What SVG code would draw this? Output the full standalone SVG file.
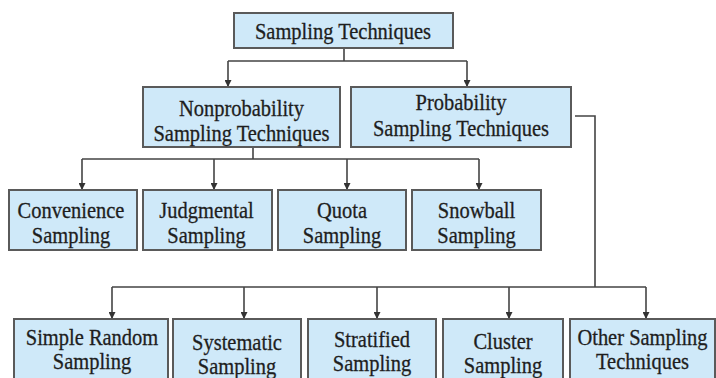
<svg xmlns="http://www.w3.org/2000/svg" width="716" height="378" viewBox="0 0 716 378">
  <style>
    .box { fill: #cfe9f9; stroke: #5a5a5a; stroke-width: 2; }
    .lbl { font-family: "Liberation Serif", "Times New Roman", serif; font-size: 23px; fill: #1e1e1e; stroke: #1e1e1e; stroke-width: 0.3; text-anchor: middle; }
    .wire { fill: none; stroke: #444; stroke-width: 1.6; }
  </style>
  <defs>
    <marker id="arrow" viewBox="0 0 8 8" refX="8" refY="4" markerWidth="7" markerHeight="7" markerUnits="userSpaceOnUse" orient="auto">
      <path d="M0,0 L8,4 L0,8 Z" fill="#333"/>
    </marker>
  </defs>
  <rect width="716" height="378" fill="#fff"/>

  <!-- connectors -->
  <g id="connectors" class="wire">
    <path d="M344,48 V61 M228,61 H467"/>
    <path d="M228,61 V87" marker-end="url(#arrow)"/>
    <path d="M467,61 V87" marker-end="url(#arrow)"/>
    <path d="M253,147 V159 M82,159 H479"/>
    <path d="M82,159 V190" marker-end="url(#arrow)"/>
    <path d="M214,159 V190" marker-end="url(#arrow)"/>
    <path d="M347,159 V190" marker-end="url(#arrow)"/>
    <path d="M479,159 V190" marker-end="url(#arrow)"/>
    <path d="M575,116 H595 V287 M112,287 H646"/>
    <path d="M112,287 V319" marker-end="url(#arrow)"/>
    <path d="M244,287 V319" marker-end="url(#arrow)"/>
    <path d="M377,287 V319" marker-end="url(#arrow)"/>
    <path d="M509,287 V319" marker-end="url(#arrow)"/>
    <path d="M646,287 V319" marker-end="url(#arrow)"/>
  </g>

  <g id="sampling-techniques">
    <rect class="box" x="234" y="13" width="219" height="35"/>
    <text class="lbl" transform="translate(343 0) scale(0.89 1)"><tspan x="0" y="39">Sampling Techniques</tspan></text>
  </g>

  <g id="nonprobability">
    <rect class="box" x="143" y="87" width="197" height="60"/>
    <text class="lbl" transform="translate(241.5 0) scale(0.89 1)"><tspan x="0" y="116">Nonprobability</tspan><tspan x="0" y="141">Sampling Techniques</tspan></text>
  </g>

  <g id="probability">
    <rect class="box" x="351" y="87" width="220" height="60"/>
    <text class="lbl" transform="translate(461 0) scale(0.89 1)"><tspan x="0" y="110">Probability</tspan><tspan x="0" y="136">Sampling Techniques</tspan></text>
  </g>

  <g id="convenience">
    <rect class="box" x="9" y="190" width="128" height="60"/>
    <text class="lbl" transform="translate(71 0) scale(0.89 1)"><tspan x="0" y="218">Convenience</tspan><tspan x="0" y="243">Sampling</tspan></text>
  </g>

  <g id="judgmental">
    <rect class="box" x="143" y="190" width="129" height="60"/>
    <text class="lbl" transform="translate(206.5 0) scale(0.89 1)"><tspan x="0" y="218">Judgmental</tspan><tspan x="0" y="243">Sampling</tspan></text>
  </g>

  <g id="quota">
    <rect class="box" x="278" y="190" width="128" height="60"/>
    <text class="lbl" transform="translate(342 0) scale(0.89 1)"><tspan x="0" y="218">Quota</tspan><tspan x="0" y="243">Sampling</tspan></text>
  </g>

  <g id="snowball">
    <rect class="box" x="412" y="190" width="129" height="60"/>
    <text class="lbl" transform="translate(476.5 0) scale(0.89 1)"><tspan x="0" y="218">Snowball</tspan><tspan x="0" y="243">Sampling</tspan></text>
  </g>

  <g id="simple-random">
    <rect class="box" x="14" y="319" width="154" height="72"/>
    <text class="lbl" transform="translate(92 0) scale(0.89 1)"><tspan x="0" y="345">Simple Random</tspan><tspan x="0" y="369">Sampling</tspan></text>
  </g>

  <g id="systematic">
    <rect class="box" x="173" y="319" width="128" height="72"/>
    <text class="lbl" transform="translate(237 0) scale(0.89 1)"><tspan x="0" y="350">Systematic</tspan><tspan x="0" y="374">Sampling</tspan></text>
  </g>

  <g id="stratified">
    <rect class="box" x="308" y="319" width="128" height="72"/>
    <text class="lbl" transform="translate(372 0) scale(0.89 1)"><tspan x="0" y="347">Stratified</tspan><tspan x="0" y="371">Sampling</tspan></text>
  </g>

  <g id="cluster">
    <rect class="box" x="443" y="319" width="120" height="72"/>
    <text class="lbl" transform="translate(503 0) scale(0.89 1)"><tspan x="0" y="349">Cluster</tspan><tspan x="0" y="373">Sampling</tspan></text>
  </g>

  <g id="other">
    <rect class="box" x="570" y="319" width="145" height="72"/>
    <text class="lbl" transform="translate(642.5 0) scale(0.89 1)"><tspan x="0" y="345">Other Sampling</tspan><tspan x="0" y="369">Techniques</tspan></text>
  </g>
</svg>
